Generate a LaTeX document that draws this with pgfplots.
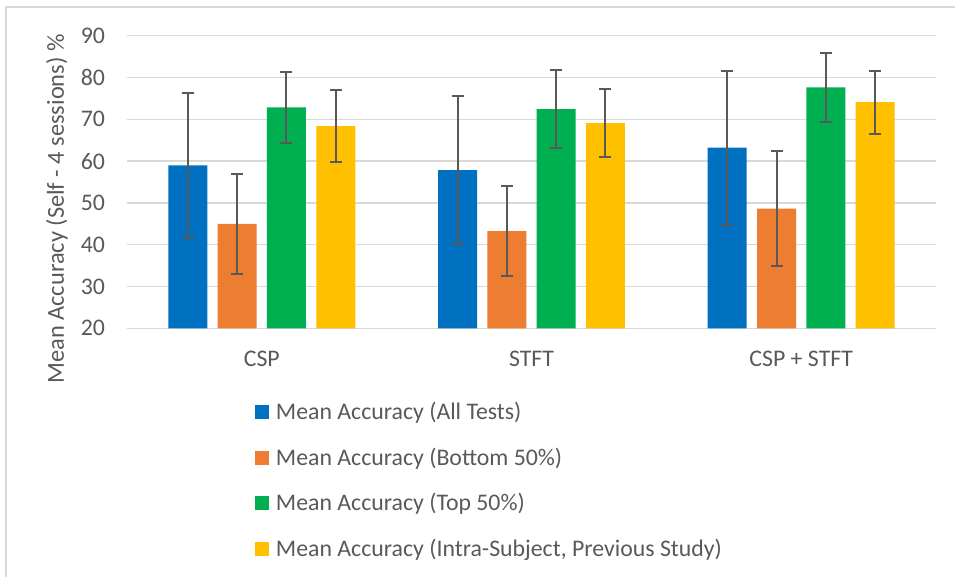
\documentclass[border=0pt]{standalone}
\usepackage{pgfplots}
\pgfplotsset{compat=1.18}
\usepackage{fontspec}
\setmainfont{Carlito}
\definecolor{cblue}{HTML}{0070C0}
\definecolor{corange}{HTML}{ED7D31}
\definecolor{cgreen}{HTML}{00B050}
\definecolor{cyellow}{HTML}{FFC000}
\definecolor{gridc}{HTML}{D9D9D9}
\definecolor{txt}{HTML}{595959}
\newcommand{\cf}{\fontsize{11.9}{14}\selectfont}
\newcommand{\lf}{\fontsize{12.2}{14}\selectfont}
\begin{document}
\begin{tikzpicture}
\useasboundingbox (0pt,0pt) rectangle (477.5pt,-288.5pt);
\draw[color=gridc, line width=0.75pt] (3pt,-288.5pt) -- (3pt,-3.5pt) -- (477.5pt,-3.5pt);
\begin{axis}[
  at={(63.5pt,-164.15pt)}, anchor=south west,
  scale only axis, width=404.5pt, height=146.3pt,
  ymin=20, ymax=90, ytick={20,30,...,90},
  xmin=-0.5, xmax=2.5, xtick={0,1,2}, xticklabels={CSP,STFT,CSP + STFT},
  axis line style={draw=none},
  major tick length=0pt,
  ymajorgrids, grid style={gridc, line width=0.75pt},
  ybar=5.15pt, bar width=19.5pt,
  /pgf/number format/assume math mode=true,
  tick label style={font=\cf, text=txt},
  yticklabel style={xshift=-7.5pt},
  xticklabel style={yshift=-8pt},
  ylabel={Mean Accuracy (Self - 4 sessions) \%},
  ylabel style={font=\lf, text=txt, at={(axis description cs:-0.0865,0.408)}, anchor=center},
  legend image code/.code={\fill[#1] (0pt,-3.5pt) rectangle (7pt,3.5pt);},
  legend cell align=left,
  legend style={draw=none, fill=none, font=\cf, text=txt, inner sep=0pt, outer sep=0pt,
    at={(axis description cs:0.1582,-0.2098)}, anchor=north west,
    nodes={inner sep=0pt, text height=15pt, text depth=7.75pt},
    column sep=3.5pt, row sep=0pt},
  error bars/y dir=both, error bars/y explicit,
  error bars/error mark options={rotate=90, mark size=3pt, line width=1pt, color=txt},
  error bars/error bar style={line width=1pt, color=txt},
]
\addplot[fill=cblue, draw=none] coordinates {(0,58.95) +- (0,17.35) (1,57.85) +- (0,17.75) (2,63.2) +- (0,18.4)};
\addplot[fill=corange, draw=none] coordinates {(0,45.0) +- (0,11.9) (1,43.25) +- (0,10.75) (2,48.65) +- (0,13.75)};
\addplot[fill=cgreen, draw=none] coordinates {(0,72.85) +- (0,8.45) (1,72.45) +- (0,9.25) (2,77.65) +- (0,8.25)};
\addplot[fill=cyellow, draw=none] coordinates {(0,68.35) +- (0,8.65) (1,69.1) +- (0,8.1) (2,74.1) +- (0,7.5)};
\legend{Mean Accuracy (All Tests), Mean Accuracy (Bottom 50\%), Mean Accuracy (Top 50\%), {Mean Accuracy (Intra-Subject, Previous Study)}}
\end{axis}
\end{tikzpicture}
\end{document}
